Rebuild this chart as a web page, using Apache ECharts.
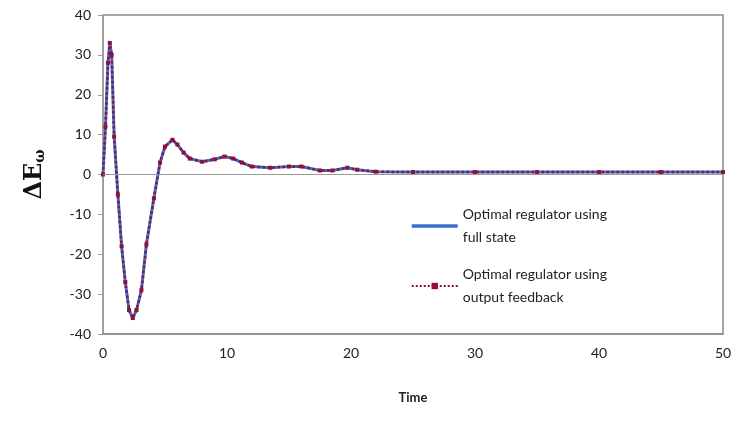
<!DOCTYPE html>
<html>
<head>
<meta charset="utf-8">
<script src="https://cdn.jsdelivr.net/npm/echarts@6/dist/echarts.min.js"></script>
<style>
  html, body { margin: 0; padding: 0; background: #fff; }
  #chart { width: 739px; height: 426px; }
</style>
</head>
<body>
<div id="chart"></div>
<script>
// time samples
const timeValues = [0, 0.2, 0.4, 0.55, 0.7, 0.9, 1.2, 1.5, 1.8, 2.1, 2.4, 2.7, 3.1, 3.5, 4.1, 4.6, 5.0, 5.6, 6.0, 6.5, 7, 8, 9, 9.8, 10.5, 11.2, 12, 13.5, 15, 16, 17.5, 18.5, 19.7, 20.5, 22, 25, 30, 35, 40, 45, 50];
// optimal regulator, full state
const fullStateValues = [0, 12, 28, 33, 30, 9.5, -5, -18, -27, -34, -36, -34, -29, -17.5, -6, 3, 7, 8.7, 7.5, 5.5, 4, 3.2, 3.8, 4.5, 4, 3, 2, 1.7, 2, 2, 1, 1, 1.7, 1.2, 0.7, 0.6, 0.6, 0.6, 0.6, 0.6, 0.6];
// optimal regulator, output feedback
const outputFbValues = [0, 12, 28, 33, 30, 9.5, -5, -18, -27, -34, -36, -34, -29, -17.5, -6, 3, 7, 8.7, 7.5, 5.5, 4, 3.2, 3.8, 4.5, 4, 3, 2, 1.7, 2, 2, 1, 1, 1.7, 1.2, 0.7, 0.6, 0.6, 0.6, 0.6, 0.6, 0.6];
const seriesNames = ['Optimal regulator using\nfull state', 'Optimal regulator using\noutput feedback'];

const chart = echarts.init(document.getElementById('chart'));
const font = 'Lato, "Open Sans", sans-serif';

chart.setOption({
  animation: false,
  grid: {
    left: 103, right: 16, top: 15, bottom: 92,
    show: true, borderColor: '#8a8a8a', borderWidth: 1.5
  },
  legend: {
    orient: 'vertical',
    left: 405, top: 198,
    itemWidth: 46, itemHeight: 8,
    itemGap: 14,
    data: [
      { name: seriesNames[0], itemStyle: { opacity: 0 }, lineStyle: { width: 3.5 } },
      { name: seriesNames[1] }
    ],
    textStyle: { fontFamily: font, fontSize: 14, color: '#222', lineHeight: 23 }
  },
  xAxis: {
    type: 'value',
    min: 0, max: 50, interval: 10,
    axisLine: { onZero: false, lineStyle: { color: '#8a8a8a', width: 1.5 } },
    axisTick: { show: false },
    splitLine: { show: false },
    axisLabel: { margin: 12, fontFamily: font, fontSize: 14, color: '#222' },
    name: 'Time',
    nameLocation: 'middle',
    nameGap: 57,
    nameTextStyle: { fontFamily: font, fontSize: 13, fontWeight: 'bold', color: '#222' }
  },
  yAxis: {
    type: 'value',
    min: -40, max: 40, interval: 10,
    axisLine: { show: true, lineStyle: { color: '#9a9a9a' } },
    axisTick: { show: true, length: 5, lineStyle: { color: '#9a9a9a' } },
    splitLine: { show: false },
    axisLabel: { margin: 12, fontFamily: font, fontSize: 14, color: '#222' },
    name: '{a|ΔE}{b|ω}',
    nameLocation: 'middle',
    nameRotate: 90,
    nameGap: 56,
    nameTextStyle: {
      rich: {
        a: { fontFamily: '"DejaVu Serif", serif', fontSize: 24, fontWeight: 'bold', color: '#111' },
        b: { fontFamily: '"DejaVu Serif", serif', fontSize: 14, fontWeight: 'bold', color: '#111', padding: [10, 0, 0, 0] }
      }
    }
  },
  series: [
    {
      name: seriesNames[0],
      type: 'line',
      data: timeValues.map((t, i) => [t, fullStateValues[i]]),
      showSymbol: false,
      symbol: 'none',
      lineStyle: { color: '#3a6fd0', width: 3 },
      itemStyle: { color: '#3a6fd0' },
      markLine: {
        silent: true,
        symbol: 'none',
        label: { show: false },
        lineStyle: { color: '#9a9a9a', width: 1, type: 'solid' },
        data: [{ yAxis: 0 }]
      },
      z: 2
    },
    {
      name: seriesNames[1],
      type: 'line',
      data: timeValues.map((t, i) => [t, outputFbValues[i]]),
      symbol: 'rect',
      symbolSize: 4,
      showAllSymbol: true,
      lineStyle: { color: '#8e1236', width: 2.5, type: 'dotted' },
      itemStyle: { color: '#8e1236' },
      z: 3
    }
  ]
});
</script>
</body>
</html>
